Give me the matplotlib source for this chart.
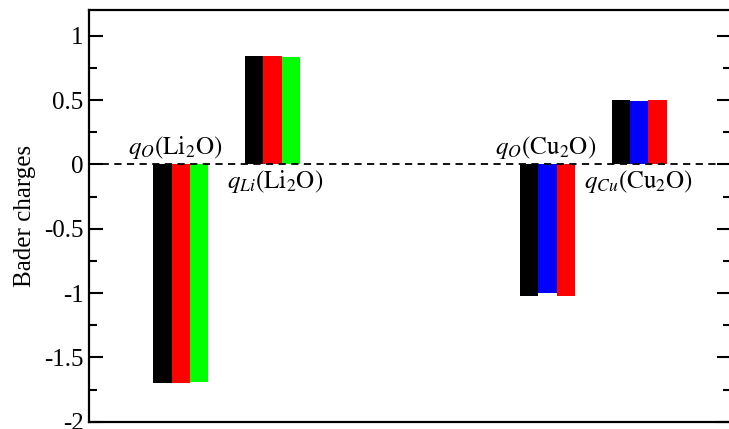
import matplotlib
matplotlib.use("Agg")
import matplotlib.pyplot as plt
from matplotlib.ticker import MultipleLocator, NullLocator

# Bader charges for each site, three calculations per group
groups = ["qO_Li2O", "qLi_Li2O", "qO_Cu2O", "qCu_Cu2O"]
group_pos = [1, 2, 5, 6]
li2o_charges = {
    "black": [-1.70, 0.845],
    "red": [-1.70, 0.845],
    "lime": [-1.69, 0.837],
}
cu2o_charges = {
    "black": [-1.02, 0.504],
    "blue": [-1.00, 0.496],
    "red": [-1.02, 0.504],
}
labels = [r"$q_O(\mathrm{Li}_2\mathrm{O})$", r"$q_{Li}(\mathrm{Li}_2\mathrm{O})$",
          r"$q_O(\mathrm{Cu}_2\mathrm{O})$", r"$q_{Cu}(\mathrm{Cu}_2\mathrm{O})$"]
ytick_vals = [-2, -1.5, -1, -0.5, 0, 0.5, 1]
ytick_text = ["-2", "-1.5", "-1", "-0.5", "0", "0.5", "1"]

plt.rcParams["font.family"] = ["Liberation Serif", "DejaVu Serif"]
plt.rcParams["mathtext.fontset"] = "stix"
plt.rcParams["axes.unicode_minus"] = False

W, H = 729, 429
fig = plt.figure(figsize=(W / 100, H / 100), dpi=100)
ax = fig.add_axes([89 / W, (H - 421.7) / H, (731 - 89) / W, (421.7 - 10) / H])

width = 0.2
offsets = [-width, 0, width]
for (x0, x1), series in (((group_pos[0], group_pos[1]), li2o_charges),
                         ((group_pos[2], group_pos[3]), cu2o_charges)):
    for off, (color, vals) in zip(offsets, series.items()):
        ax.bar([x0 + off, x1 + off], vals, width=width, color=color,
               edgecolor="none", zorder=2)

ax.axhline(0, color="black", lw=1.3, ls=(0, (4, 3)), zorder=3)

ax.set_xlim(0, 7)
ax.set_ylim(-2, 1.2)
ax.yaxis.set_minor_locator(MultipleLocator(0.25))
ax.xaxis.set_major_locator(NullLocator())
ax.set_yticks(ytick_vals)
ax.set_yticklabels(ytick_text)
ax.tick_params(axis="y", which="major", direction="in", length=10, width=1.5,
               labelsize=18, right=True, pad=4)
ax.tick_params(axis="y", which="minor", direction="in", length=6, width=1.5,
               right=True)
for s in ax.spines.values():
    s.set_linewidth(1.6)

ax.set_ylabel("Bader charges", fontsize=18, labelpad=6)

# Site labels beside each bar group
fs = 18
ax.text(group_pos[0] + 0.45, 0.03, labels[0], fontsize=fs, ha="right", va="bottom")
ax.text(group_pos[1] - 0.5, -0.03, labels[1], fontsize=fs, ha="left", va="top")
ax.text(group_pos[2] + 0.53, 0.03, labels[2], fontsize=fs, ha="right", va="bottom")
ax.text(group_pos[3] - 0.6, -0.03, labels[3], fontsize=fs, ha="left", va="top")

fig.savefig("out.png", dpi=100)
